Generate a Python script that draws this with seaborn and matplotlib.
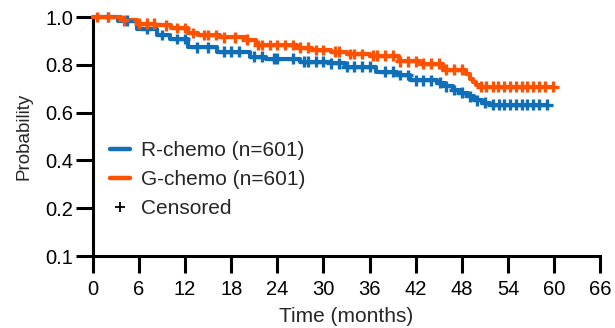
#!/usr/bin/env python3
"""
Kaplan-Meier style plot: R-chemo vs G-chemo.
"""

import numpy as np
import pandas as pd
import matplotlib
matplotlib.use('Agg')
import matplotlib.pyplot as plt
from matplotlib.lines import Line2D
import seaborn as sns

# step change points (months, survival probability)
r_times = [0, 3.3, 5.7, 8.3, 10.0, 12.4, 16.2, 20.5, 22.5, 27.0, 31.0, 32.8, 36.8,
           39.5, 41.2, 44.8, 45.8, 46.8, 47.8, 48.8, 49.6, 50.6, 51.6, 59.1]
r_surv = [1.0, 0.985, 0.95, 0.925, 0.908, 0.874, 0.855, 0.834, 0.826, 0.813, 0.806,
          0.792, 0.771, 0.757, 0.736, 0.725, 0.71, 0.695, 0.683, 0.668, 0.652, 0.642,
          0.634, 0.634]

g_times = [0, 3.6, 5.8, 8.1, 10.1, 12.4, 13.7, 16.5, 20.0, 21.2, 26.5, 28.5, 31.0,
           33.0, 36.0, 39.8, 42.5, 45.6, 48.6, 49.0, 49.4, 49.8, 50.2, 59.9]
g_surv = [1.0, 0.987, 0.973, 0.966, 0.954, 0.933, 0.925, 0.916, 0.905, 0.883, 0.872,
          0.862, 0.855, 0.845, 0.838, 0.815, 0.805, 0.78, 0.76, 0.742, 0.727, 0.715,
          0.708, 0.708]

# censoring times (months)
r_censored = [2, 4.5, 7, 9, 11, 12, 13.5, 15, 17, 18, 19, 21, 22, 23.5, 24, 26, 27.5,
              28, 29, 30, 31, 32, 33, 34, 35, 36, 38, 39, 40, 41, 42, 43, 44, 45.2,
              46, 47, 48, 49, 50, 51, 52, 52.8, 53.5, 54.2, 55, 55.8, 56.5, 57.2,
              58, 59.1]
g_censored = [0.5, 2, 4, 6, 7, 8, 9.5, 11, 12, 13, 14.5, 15, 16, 17, 18.5, 20, 21.5,
              22, 23, 24, 25, 26, 27, 28, 29, 30, 31.5, 32, 33.5, 34, 35, 36.5, 37,
              38, 39, 40, 41, 42, 43, 44, 45, 46, 47, 48, 50.5, 51.2, 52, 52.7, 53.5,
              54.2, 55, 55.8, 56.5, 57.2, 58, 58.8, 59.9]

arm_labels = ['R-chemo (n=601)', 'G-chemo (n=601)']
arm_colors = ['#106fb7', '#ff5200']

x_ticks = list(range(0, 67, 6))
y_ticks = [0.0, 0.2, 0.4, 0.6, 0.8, 1.0]
y_tick_labels = ['0.1', '0.2', '0.4', '0.6', '0.8', '1.0']


def step_value(times, surv, t):
    """Survival at time t from a right-continuous step function."""
    idx = np.searchsorted(times, t, side='right') - 1
    return np.array(surv)[idx]


def build_frames():
    curves = pd.concat([
        pd.DataFrame({'time': r_times, 'prob': r_surv, 'arm': arm_labels[0]}),
        pd.DataFrame({'time': g_times, 'prob': g_surv, 'arm': arm_labels[1]}),
    ], ignore_index=True)
    marks = pd.concat([
        pd.DataFrame({'time': r_censored,
                      'prob': step_value(r_times, r_surv, r_censored),
                      'arm': arm_labels[0]}),
        pd.DataFrame({'time': g_censored,
                      'prob': step_value(g_times, g_surv, g_censored),
                      'arm': arm_labels[1]}),
    ], ignore_index=True)
    return curves, marks


def main():
    sns.set_style('ticks')
    plt.rcParams['font.family'] = ['Liberation Sans', 'DejaVu Sans']

    curves, marks = build_frames()
    palette = dict(zip(arm_labels, arm_colors))

    fig = plt.figure(figsize=(6.15, 3.28), dpi=100)
    ax = fig.add_axes([0.151, 0.2195, 0.825, 0.7285])

    sns.lineplot(data=curves, x='time', y='prob', hue='arm', palette=palette,
                 drawstyle='steps-post', estimator=None, sort=False,
                 linewidth=3, legend=False, ax=ax, clip_on=False)
    sns.scatterplot(data=marks, x='time', y='prob', hue='arm', palette=palette,
                    marker='+', s=60, linewidth=2.4, legend=False, ax=ax,
                    clip_on=False, zorder=3)

    ax.set_xlim(0, 66)
    ax.set_ylim(0, 1.0)
    ax.set_xticks(x_ticks)
    ax.set_yticks(y_ticks)
    ax.set_yticklabels(y_tick_labels)
    ax.set_xlabel('Time (months)', fontsize=15, labelpad=6)
    ax.set_ylabel('Probability', fontsize=13.5, labelpad=9)

    for side in ['top', 'right']:
        ax.spines[side].set_visible(False)
    for side in ['left', 'bottom']:
        ax.spines[side].set_linewidth(2.2)
        ax.spines[side].set_color('black')
    ax.tick_params(axis='both', which='major', length=12, width=2.2,
                   labelsize=14.5, colors='black')
    ax.tick_params(axis='y', pad=2)
    ax.tick_params(axis='x', pad=5)

    handles = [
        Line2D([], [], color=arm_colors[0], lw=3.2),
        Line2D([], [], color=arm_colors[1], lw=3.2),
        Line2D([], [], color='black', marker='+', linestyle='none',
               markersize=7, markeredgewidth=1.3),
    ]
    ax.legend(handles, arm_labels + ['Censored'], loc='upper left',
              bbox_to_anchor=(0.018, 0.515), frameon=False, fontsize=15,
              handlelength=0.95, handletextpad=0.5, labelspacing=0.48,
              borderaxespad=0)

    fig.savefig('out.png', dpi=100)


if __name__ == '__main__':
    main()
